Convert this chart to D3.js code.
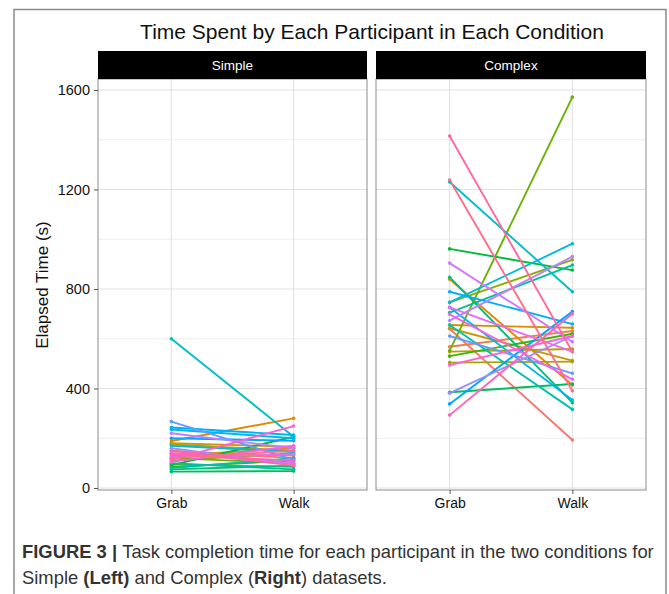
<!DOCTYPE html>
<html>
<head>
<meta charset="utf-8">
<script src="https://cdn.jsdelivr.net/npm/d3@7"></script>
<style>
  body { margin: 0; background: #fff; }
  svg { font-family: "Liberation Sans", Arial, Helvetica, sans-serif; }
</style>
</head>
<body>
<svg id="chart"></svg>
<script>
// data (seconds), one entry per participant
const conditions = ['Grab', 'Walk'];
const panels = ['Simple', 'Complex'];
const yTicks = [0, 400, 800, 1200, 1600];

const simpleGrab = [150, 140, 189, 130, 180, 175, 110, 95, 120, 85, 92, 66, 75, 100, 80,
  600, 170, 235, 243, 200, 267, 160, 220, 140, 125, 105, 113, 135, 150, 120];
const simpleWalk = [120, 130, 280, 160, 166, 150, 140, 85, 100, 110, 206, 68, 90, 75, 120,
  206, 145, 200, 213, 190, 113, 95, 160, 100, 135, 170, 249, 110, 90, 150];

const complexGrab = [640, 568, 839, 655, 642, 548, 504, 746, 552, 530, 961, 385, 847, 705, 655,
  1230, 746, 726, 789, 338, 611, 381, 673, 904, 726, 698, 494, 293, 1415, 1238];
const complexWalk = [193, 631, 414, 644, 512, 559, 508, 917, 1571, 620, 876, 418, 343, 896, 316,
  789, 982, 354, 659, 709, 461, 611, 930, 588, 548, 437, 611, 700, 548, 391];

const width = 669, height = 594;
const font = '"Liberation Sans", Arial, Helvetica, sans-serif';
const svg = d3.select('#chart').attr('width', width).attr('height', height);

// ggplot hue palette: polar LUV (l = 65, c = 100) to sRGB
function hueColor(h) {
  const L = 65, C = 100;
  const u = C * Math.cos(h * Math.PI / 180), v = C * Math.sin(h * Math.PI / 180);
  const Xn = 95.047, Yn = 100, Zn = 108.883;
  const un = 4 * Xn / (Xn + 15 * Yn + 3 * Zn), vn = 9 * Yn / (Xn + 15 * Yn + 3 * Zn);
  const Y = Yn * Math.pow((L + 16) / 116, 3);
  const up = u / (13 * L) + un, vp = v / (13 * L) + vn;
  const X = Y * 9 * up / (4 * vp), Z = Y * (12 - 3 * up - 20 * vp) / (4 * vp);
  const lin = [
    3.240479 * X - 1.537150 * Y - 0.498535 * Z,
    -0.969256 * X + 1.875992 * Y + 0.041556 * Z,
    0.055648 * X - 0.204043 * Y + 1.057311 * Z
  ];
  const rgb = lin.map(function(c) {
    c = c / 100;
    c = c <= 0.0031308 ? 12.92 * c : 1.055 * Math.pow(c, 1 / 2.4) - 0.055;
    return Math.round(255 * Math.max(0, Math.min(1, c)));
  });
  return d3.rgb(rgb[0], rgb[1], rgb[2]).formatHex();
}
const n = simpleGrab.length;
const colors = d3.range(n).map(function(i) { return hueColor(15 + 360 * i / n); });

const plotTop = 79, plotBottom = 490;
const panelX = [[98, 367], [376, 646]];
const y = d3.scaleLinear().domain([-8, 1644]).range([plotBottom, plotTop]);

// outer frame
svg.append('rect')
  .attr('x', 14).attr('y', 9.5)
  .attr('width', 652).attr('height', 600)
  .attr('fill', 'none')
  .attr('stroke', '#8a8a8a')
  .attr('stroke-width', 1.5);

svg.append('text')
  .attr('x', 372).attr('y', 39)
  .attr('text-anchor', 'middle')
  .attr('font-size', 21)
  .attr('fill', '#111')
  .text('Time Spent by Each Participant in Each Condition');

svg.append('text')
  .attr('transform', 'translate(48, 285) rotate(-90)')
  .attr('text-anchor', 'middle')
  .attr('font-size', 17)
  .attr('fill', '#111')
  .text('Elapsed Time (s)');

function drawPanel(p, grab, walk) {
  const x0 = panelX[p][0], x1 = panelX[p][1];
  const x = d3.scalePoint().domain(conditions).range([x0, x1]).padding(0.6);
  const g = svg.append('g');

  // grid
  const minor = d3.range(200, 1700, 400);
  g.selectAll('.minor').data(minor).enter().append('line')
    .attr('x1', x0).attr('x2', x1)
    .attr('y1', function(d) { return y(d); })
    .attr('y2', function(d) { return y(d); })
    .attr('stroke', '#eeeeee').attr('stroke-width', 1);
  g.selectAll('.major').data(yTicks).enter().append('line')
    .attr('x1', x0).attr('x2', x1)
    .attr('y1', function(d) { return y(d); })
    .attr('y2', function(d) { return y(d); })
    .attr('stroke', '#e0e0e0').attr('stroke-width', 1);
  g.selectAll('.vgrid').data(conditions).enter().append('line')
    .attr('x1', function(d) { return x(d); })
    .attr('x2', function(d) { return x(d); })
    .attr('y1', plotTop).attr('y2', plotBottom)
    .attr('stroke', '#e0e0e0').attr('stroke-width', 1);

  // participant lines
  const rows = grab.map(function(v, i) {
    return { id: i, grab: v, walk: walk[i] };
  });
  g.selectAll('.pline').data(rows).enter().append('line')
    .attr('x1', x('Grab')).attr('x2', x('Walk'))
    .attr('y1', function(d) { return y(d.grab); })
    .attr('y2', function(d) { return y(d.walk); })
    .attr('stroke', function(d) { return colors[d.id]; })
    .attr('stroke-width', 1.9);
  const pts = [];
  rows.forEach(function(d) {
    pts.push({ id: d.id, c: 'Grab', v: d.grab });
    pts.push({ id: d.id, c: 'Walk', v: d.walk });
  });
  g.selectAll('.pt').data(pts).enter().append('circle')
    .attr('cx', function(d) { return x(d.c); })
    .attr('cy', function(d) { return y(d.v); })
    .attr('r', 1.8)
    .attr('fill', function(d) { return colors[d.id]; });

  // border
  g.append('rect')
    .attr('x', x0).attr('y', plotTop)
    .attr('width', x1 - x0).attr('height', plotBottom - plotTop)
    .attr('fill', 'none')
    .attr('stroke', '#8c8c8c').attr('stroke-width', 1);

  // strip
  g.append('rect')
    .attr('x', x0).attr('y', 51)
    .attr('width', x1 - x0).attr('height', plotTop - 51)
    .attr('fill', '#000');
  g.append('text')
    .attr('x', (x0 + x1) / 2).attr('y', 70)
    .attr('text-anchor', 'middle')
    .attr('font-size', 13.5)
    .attr('fill', '#fff')
    .text(panels[p]);

  const xAxis = g.append('g')
    .attr('transform', 'translate(0,' + plotBottom + ')')
    .call(d3.axisBottom(x).tickSize(4).tickPadding(4));
  xAxis.select('.domain').remove();
  xAxis.selectAll('line').attr('stroke', '#555');
  xAxis.selectAll('text').style('font-size', '14px').attr('fill', '#111')
    .style('font-family', font);

  if (p === 0) {
    const yAxis = g.append('g')
      .attr('transform', 'translate(' + x0 + ',0)')
      .call(d3.axisLeft(y).tickValues(yTicks).tickFormat(d3.format('d'))
        .tickSize(4).tickPadding(4));
    yAxis.select('.domain').remove();
    yAxis.selectAll('line').attr('stroke', '#555');
    yAxis.selectAll('text').style('font-size', '14.5px').attr('fill', '#111')
      .style('font-family', font);
  }
}

drawPanel(0, simpleGrab, simpleWalk);
drawPanel(1, complexGrab, complexWalk);

// caption
const cap = svg.append('g').attr('font-size', 18.4).attr('fill', '#333');
const l1 = cap.append('text').attr('x', 22).attr('y', 558);
l1.append('tspan').attr('font-weight', 'bold').text('FIGURE 3 | ');
l1.append('tspan').text('Task completion time for each participant in the two conditions for');
const l2 = cap.append('text').attr('x', 22).attr('y', 584);
l2.append('tspan').text('Simple ');
l2.append('tspan').attr('font-weight', 'bold').text('(Left)');
l2.append('tspan').text(' and Complex (');
l2.append('tspan').attr('font-weight', 'bold').text('Right');
l2.append('tspan').text(') datasets.');
</script>
</body>
</html>
